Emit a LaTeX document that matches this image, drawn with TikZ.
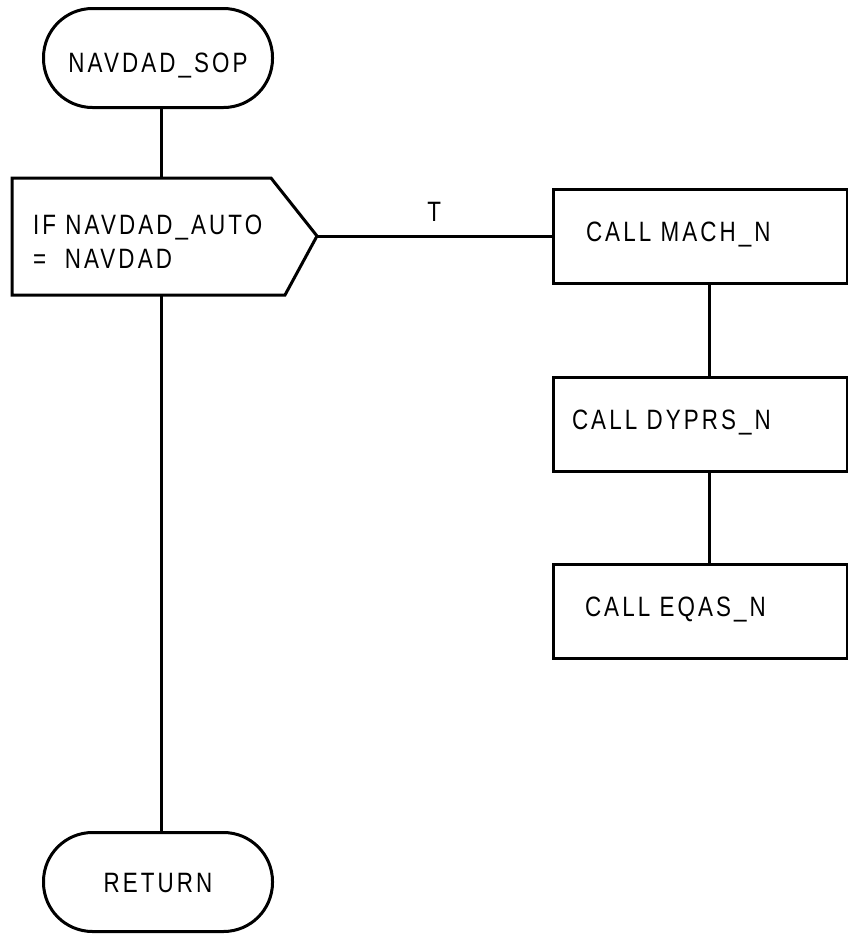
\documentclass[tikz,border=0pt]{standalone}
\usepackage{fontspec}
\setmainfont{Liberation Sans}[FakeStretch=0.8,LetterSpace=11]
\usetikzlibrary{arrows.meta,positioning,calc}
\definecolor{ChartInk}{HTML}{000000}
\definecolor{ChartBack}{HTML}{FFFFFF}
\tikzset{>=Stealth,every node/.style={font=\fontsize{28}{34}\selectfont},
 wire/.style={draw=ChartInk,line width=3pt},
 term/.style={draw=ChartInk,fill=ChartBack,line width=3pt,rounded corners=49pt,
 minimum width=229pt,minimum height=99pt,text depth=0pt},
 proc/.style={draw=ChartInk,fill=ChartBack,line width=3pt,minimum width=294pt,
 minimum height=94pt,align=left,text height=20pt,text depth=10pt},
 cond/.style={anchor=west,align=left,inner sep=0pt}}

\begin{document}
\begin{tikzpicture}[x=1pt,y=-1pt]
\useasboundingbox (0,0) rectangle (848,935);
\node[term,text height=28pt] (start) at (158,58) {NAVDAD\_SOP};
\node[term,text height=20pt] (ret) at (158,882) {RETURN};
\draw[wire] (12,178)--(271,178)--(317,236) coordinate (dtip)--(285,295)--(12,295)--cycle;
\node[cond] (if) at (33,242) {IF NAVDAD\_AUTO\\=\ \ NAVDAD};
\coordinate (dtop) at (161,178);
\coordinate (dbot) at (161,295);
\foreach \n/\y/\s/\t in {mach/236/33/{CALL MACH\_N},dyprs/424/19/{CALL DYPRS\_N},eqas/611/32/{CALL EQAS\_N}}{
 \pgfmathsetmacro\tw{294-2*\s}
 \node[proc,inner xsep=\s pt,text width=\tw pt] (\n) at (700,\y) {\t};
}
\draw[wire] ([xshift=3pt]start.south)--(dtop);
\draw[wire] (dbot)--([xshift=3pt]ret.north);
\draw[wire] (dtip)--node[above=10pt] (tlab) {T} (mach.west);
\draw[wire] ([xshift=9pt]mach.south)--([xshift=9pt]dyprs.north);
\draw[wire] ([xshift=9pt]dyprs.south)--([xshift=9pt]eqas.north);
\end{tikzpicture}
\end{document}
